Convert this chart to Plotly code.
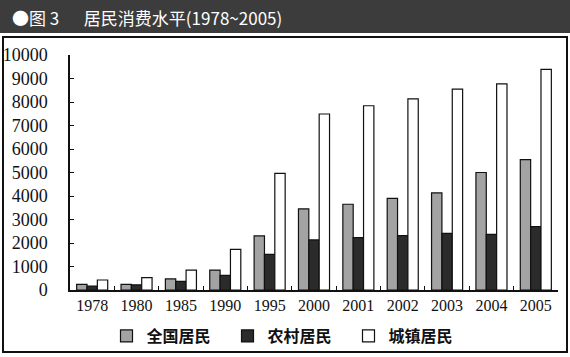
import plotly.graph_objects as go

years = ["1978", "1980", "1985", "1990", "1995", "2000", "2001", "2002", "2003", "2004", "2005"]
national = [240, 240, 470, 850, 2300, 3450, 3650, 3900, 4130, 5000, 5550]
rural = [170, 220, 370, 620, 1520, 2130, 2230, 2310, 2410, 2370, 2700]
urban = [425, 525, 850, 1730, 4960, 7490, 7840, 8130, 8550, 8770, 9390]
series_names = ["全国居民", "农村居民", "城镇居民"]

L, R, T, B = 70, 12, 55, 67
W, H = 570, 357
pw, ph = W - L - R, H - T - B

def px_x(x):
    return (x - L) / pw

def px_y(y):
    return (H - B - y) / ph

fig = go.Figure()
fills = ["#a3a3a3", "#2b2b2b", "#ffffff"]
for name, vals, col in zip(series_names, [national, rural, urban], fills):
    fig.add_trace(go.Bar(
        x=years, y=vals, name=name,
        marker=dict(color=col, line=dict(color="#111111", width=1.2)),
    ))

fig.update_layout(
    width=W, height=H,
    margin=dict(l=L, r=R, t=T, b=B, autoexpand=False),
    paper_bgcolor="white", plot_bgcolor="white",
    barmode="group", bargap=0.3, bargroupgap=0,
    showlegend=True,
    legend=dict(
        orientation="h", x=px_x(288), xanchor="center",
        y=px_y(336), yanchor="middle",
        entrywidth=76, entrywidthmode="pixels",
        font=dict(family="Noto Sans CJK SC", size=16, color="#111111", weight="bold"),
        itemwidth=30, bgcolor="rgba(0,0,0,0)",
    ),
    font=dict(family="Liberation Serif", color="#111111"),
)
fig.update_xaxes(
    showline=True, linecolor="#111111", linewidth=1.5, automargin=False,
    ticks="inside", tickson="boundaries", ticklen=4, tickcolor="#111111",
    tickfont=dict(family="Liberation Serif", size=16, color="#111111"),
    showgrid=False,
)
fig.update_yaxes(
    range=[0, 10000], dtick=1000, tickformat="d", automargin=False,
    showline=True, linecolor="#111111", linewidth=1.5,
    ticks="inside", ticklen=4, tickcolor="#111111",
    tickfont=dict(family="Liberation Serif", size=18, color="#111111"),
    showgrid=False, zeroline=False, ticklabelstandoff=17,
)

# title band
fig.add_shape(type="rect", xref="paper", yref="paper",
              x0=px_x(0), x1=px_x(570), y0=px_y(33), y1=px_y(0),
              fillcolor="#3c3c3c", line=dict(width=0), layer="below")
# frame box
fig.add_shape(type="rect", xref="paper", yref="paper",
              x0=px_x(3), x1=px_x(567), y0=px_y(352), y1=px_y(37),
              fillcolor="rgba(0,0,0,0)", line=dict(color="#111111", width=2), layer="below")
fig.add_annotation(
    xref="paper", yref="paper", x=px_x(10), y=px_y(17),
    xanchor="left", yanchor="middle", showarrow=False,
    text="●图 3　  居民消费水平(1978~2005)",
    font=dict(family="Noto Sans CJK SC", size=17, color="white"),
)

fig.write_html("out.html", config={"displayModeBar": False},
               post_script="document.body.style.margin='0';")
